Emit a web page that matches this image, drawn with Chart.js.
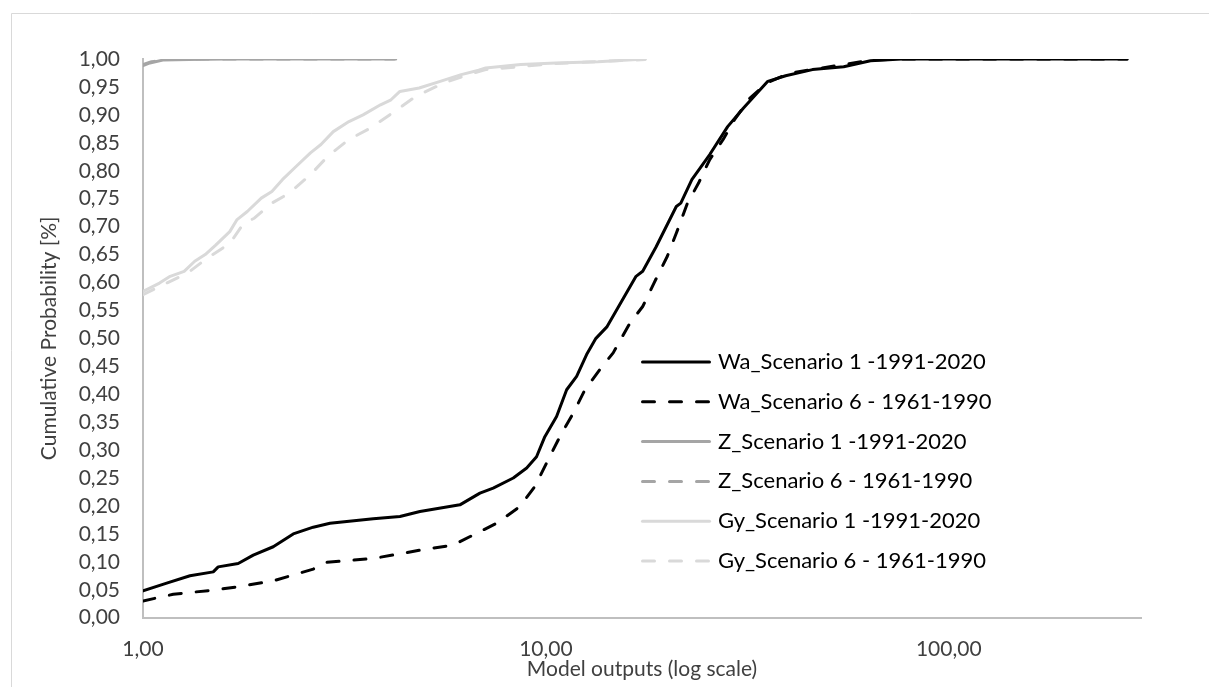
<!DOCTYPE html>
<html>
<head>
<meta charset="utf-8">
<script src="https://cdn.jsdelivr.net/npm/chart.js@4/dist/chart.umd.min.js"></script>
<style>
  body { margin: 0; background: #fff; }
  canvas { display: block; }
</style>
</head>
<body>
<canvas id="chart" width="1209" height="687"></canvas>
<script>
// (x = model output, y = cumulative probability)
const waS1X = [1.00, 1.145, 1.308, 1.494, 1.537, 1.723, 1.878, 2.105, 2.36, 2.646, 2.911, 3.728, 4.342, 4.868, 6.117, 6.86, 7.399, 8.30, 8.96, 9.48, 9.94, 10.63, 11.26, 11.92, 12.62, 13.31, 14.19, 16.74, 17.39, 18.78, 21.07, 21.62, 23.03, 25.51, 28.26, 30.90, 35.55, 39.36, 45.88, 54.85, 63.93, 76.4, 277];
const waS1Y = [0.048, 0.062, 0.075, 0.082, 0.091, 0.097, 0.112, 0.127, 0.150, 0.162, 0.169, 0.177, 0.181, 0.190, 0.202, 0.223, 0.232, 0.250, 0.268, 0.288, 0.324, 0.360, 0.408, 0.432, 0.471, 0.500, 0.521, 0.611, 0.620, 0.664, 0.736, 0.742, 0.784, 0.829, 0.879, 0.912, 0.960, 0.970, 0.981, 0.986, 0.997, 1.0, 1.0];

const waS6X = [1.00, 1.189, 1.523, 1.741, 2.105, 2.646, 2.857, 3.728, 5.058, 5.889, 6.60, 7.545, 8.62, 9.39, 10.04, 10.83, 11.69, 12.50, 13.61, 14.69, 16.16, 17.39, 18.55, 20.02, 21.07, 22.46, 23.93, 25.51, 27.54, 29.36, 32.10, 35.55, 40.4, 54.85, 63.93, 76.4, 277];
const waS6Y = [0.030, 0.042, 0.050, 0.056, 0.066, 0.087, 0.099, 0.106, 0.123, 0.130, 0.148, 0.169, 0.199, 0.235, 0.277, 0.324, 0.366, 0.408, 0.444, 0.474, 0.527, 0.557, 0.599, 0.647, 0.688, 0.742, 0.778, 0.820, 0.856, 0.891, 0.930, 0.958, 0.975, 0.990, 0.998, 1.0, 1.0];

const zS1X = [1.0, 1.04, 1.12, 1.3, 1.6, 4.24];
const zS1Y = [0.988, 0.993, 0.998, 0.999, 1.0, 1.0];

const zS6X = [1.0, 1.05, 1.15, 1.4, 4.2];
const zS6Y = [0.990, 0.995, 0.999, 1.0, 1.0];

const gyS1X = [1.0, 1.099, 1.168, 1.265, 1.344, 1.427, 1.515, 1.642, 1.709, 1.815, 1.966, 2.089, 2.218, 2.402, 2.604, 2.765, 2.967, 3.245, 3.517, 3.887, 4.127, 4.341, 4.847, 5.466, 6.164, 6.81, 7.09, 8.66, 10.59, 13.47, 17.64];
const gyS1Y = [0.584, 0.599, 0.611, 0.620, 0.638, 0.650, 0.667, 0.691, 0.712, 0.727, 0.751, 0.763, 0.784, 0.808, 0.832, 0.847, 0.870, 0.888, 0.900, 0.918, 0.927, 0.942, 0.948, 0.960, 0.972, 0.980, 0.984, 0.990, 0.993, 0.995, 1.0];

const gyS6X = [1.0, 1.122, 1.291, 1.427, 1.642, 1.779, 1.889, 2.089, 2.308, 2.604, 2.877, 3.245, 3.661, 4.21, 4.751, 5.576, 6.415, 7.09, 10.59, 17.64];
const gyS6Y = [0.578, 0.596, 0.617, 0.641, 0.670, 0.706, 0.715, 0.742, 0.760, 0.793, 0.826, 0.856, 0.876, 0.906, 0.933, 0.957, 0.972, 0.981, 0.992, 0.999];

const seriesNames = [
    'Wa_Scenario 1 -1991-2020',
    'Wa_Scenario 6 - 1961-1990',
    'Z_Scenario 1 -1991-2020',
    'Z_Scenario 6 - 1961-1990',
    'Gy_Scenario 1 -1991-2020',
    'Gy_Scenario 6 - 1961-1990'
];

const xTickValues = [1, 10, 100];
const xTickLabels = ['1,00', '10,00', '100,00'];

const FONT = 'Lato';
const DASH = [12, 15];

function pts(xs, ys) {
    return xs.map((x, i) => ({ x: x, y: ys[i] }));
}

function serie(label, xs, ys, color, dashed) {
    return {
        label: label,
        data: pts(xs, ys),
        borderColor: color,
        backgroundColor: color,
        borderWidth: 3,
        borderDash: dashed ? DASH : [],
        borderCapStyle: 'round',
        borderJoinStyle: 'round',
        pointRadius: 0,
        tension: 0,
        fill: false
    };
}

// marco gris exterior
const marco = {
    id: 'marco',
    beforeDraw(chart) {
        const ctx = chart.ctx;
        ctx.save();
        ctx.fillStyle = '#fff';
        ctx.fillRect(0, 0, chart.width, chart.height);
        ctx.strokeStyle = '#d9d9d9';
        ctx.lineWidth = 1;
        ctx.beginPath();
        ctx.moveTo(11.5, chart.height + 5);
        ctx.lineTo(11.5, 13.5);
        ctx.lineTo(chart.width + 5, 13.5);
        ctx.stroke();
        ctx.restore();
    }
};

// leyenda dentro del area del grafico
const leyenda = {
    id: 'leyenda',
    afterDraw(chart) {
        const ctx = chart.ctx;
        const x0 = 641, x1 = 711, tx = 718, y0 = 362, paso = 39.8;
        ctx.save();
        ctx.font = '22px ' + FONT;
        ctx.textBaseline = 'middle';
        ctx.textAlign = 'left';
        chart.data.datasets.forEach((ds, i) => {
            const y = y0 + i * paso;
            ctx.strokeStyle = ds.borderColor;
            ctx.lineWidth = 3;
            ctx.lineCap = 'round';
            ctx.setLineDash(ds.borderDash);
            ctx.beginPath();
            ctx.moveTo(x0 + 1.5, y);
            ctx.lineTo(x1 - 1.5, y);
            ctx.stroke();
            ctx.setLineDash([]);
            ctx.fillStyle = '#000';
            ctx.fillText(ds.label, tx, y);
        });
        ctx.restore();
    }
};

new Chart(document.getElementById('chart'), {
    type: 'line',
    data: {
        datasets: [
            serie(seriesNames[0], waS1X, waS1Y, '#000000', false),
            serie(seriesNames[1], waS6X, waS6Y, '#000000', true),
            serie(seriesNames[2], zS1X, zS1Y, '#a5a5a5', false),
            serie(seriesNames[3], zS6X, zS6Y, '#a5a5a5', true),
            serie(seriesNames[4], gyS1X, gyS1Y, '#d9d9d9', false),
            serie(seriesNames[5], gyS6X, gyS6Y, '#d9d9d9', true)
        ]
    },
    options: {
        responsive: false,
        animation: false,
        layout: { padding: { top: 59, right: 68, bottom: 0, left: 0 } },
        plugins: {
            legend: { display: false },
            tooltip: { enabled: false }
        },
        scales: {
            x: {
                type: 'logarithmic',
                min: 1,
                max: 300,
                grid: { display: false, drawTicks: false },
                border: { display: true, color: '#bfbfbf', width: 2 },
                afterBuildTicks: scale => {
                    scale.ticks = xTickValues.map(v => ({ value: v }));
                },
                afterFit: scale => { scale.height = 69.3; },
                ticks: {
                    autoSkip: false,
                    maxRotation: 0,
                    padding: 19,
                    color: '#404040',
                    font: { family: FONT, size: 21 },
                    callback: (v, i) => xTickLabels[i]
                },
                title: {
                    display: true,
                    text: 'Model outputs (log scale)',
                    color: '#404040',
                    font: { family: FONT, size: 21 },
                    padding: { top: 0, bottom: 5 }
                }
            },
            y: {
                min: 0,
                max: 1,
                grid: { display: false, drawTicks: false },
                border: { display: true, color: '#bfbfbf', width: 2 },
                afterFit: scale => { scale.width = 143; },
                ticks: {
                    stepSize: 0.05,
                    autoSkip: false,
                    padding: 23,
                    color: '#404040',
                    font: { family: FONT, size: 21 },
                    callback: v => v.toFixed(2).replace('.', ',')
                },
                title: {
                    display: true,
                    text: 'Cumulative Probability [%]',
                    color: '#404040',
                    font: { family: FONT, size: 21 },
                    padding: { top: 37, bottom: 0 }
                }
            }
        }
    },
    plugins: [marco, leyenda]
});
</script>
</body>
</html>
